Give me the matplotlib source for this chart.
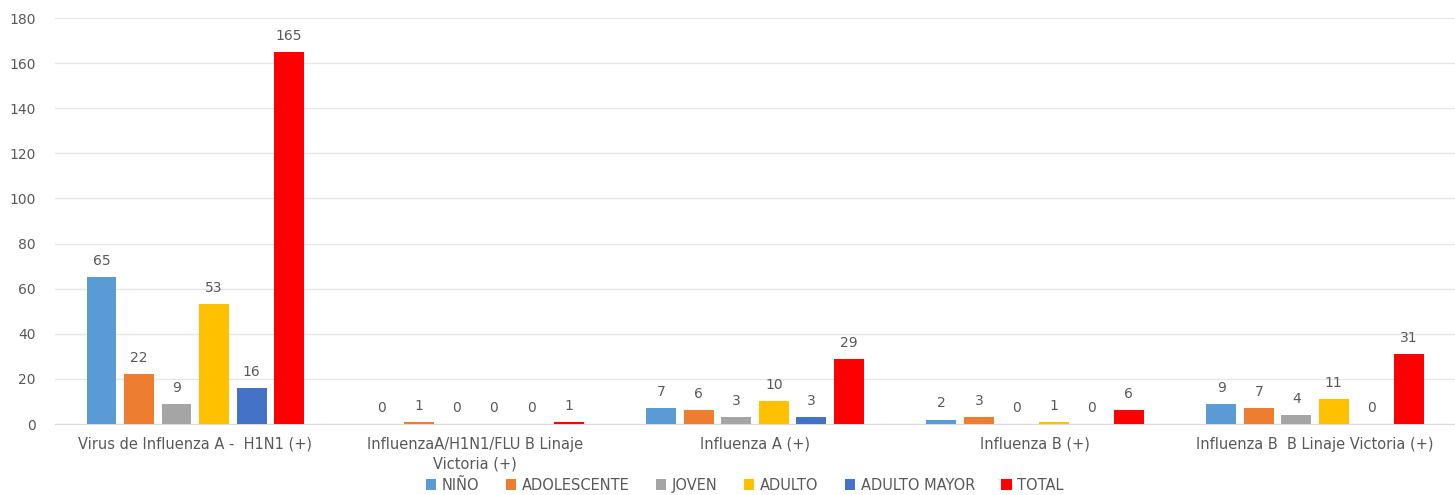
import matplotlib.pyplot as plt
import numpy as np

categories = [
    "Virus de Influenza A -  H1N1 (+)",
    "InfluenzaA/H1N1/FLU B Linaje\nVictoria (+)",
    "Influenza A (+)",
    "Influenza B (+)",
    "Influenza B  B Linaje Victoria (+)",
]
series_names = ["NIÑO", "ADOLESCENTE", "JOVEN", "ADULTO", "ADULTO MAYOR", "TOTAL"]
nino = [65, 0, 7, 2, 9]
adolescente = [22, 1, 6, 3, 7]
joven = [9, 0, 3, 0, 4]
adulto = [53, 0, 10, 1, 11]
adulto_mayor = [16, 0, 3, 0, 0]
total = [165, 1, 29, 6, 31]
colors = ["#5B9BD5", "#ED7D31", "#A5A5A5", "#FFC000", "#4472C4", "#FF0000"]

series = [nino, adolescente, joven, adulto, adulto_mayor, total]
text_color = "#595959"

fig = plt.figure(figsize=(14.55, 4.95), dpi=100)
ax = fig.add_axes([0.038, 0.1434, 0.962, 0.8202])

x = np.arange(len(categories))
pitch = 0.134
width = 0.107
for i, (name, vals, c) in enumerate(zip(series_names, series, colors)):
    pos = x + (i - 2.5) * pitch
    ax.bar(pos, vals, width, color=c, label=name, zorder=3)
    for xp, v in zip(pos, vals):
        ax.text(xp, v + 4, str(v), ha="center", va="bottom",
                fontsize=10, color=text_color)

ax.set_xlim(-0.5, len(categories) - 0.5)
ax.set_ylim(0, 180)
ax.set_yticks(np.arange(0, 181, 20))
ax.set_xticks(x)
ax.set_xticklabels(categories, fontsize=10.5, color=text_color, linespacing=1.4)
ax.tick_params(axis="y", length=0, labelsize=10, labelcolor=text_color, pad=14)
ax.tick_params(axis="x", length=0, pad=9)
ax.grid(axis="y", color="#E6E6E6", linewidth=1, zorder=0)
for s in ["top", "right", "left"]:
    ax.spines[s].set_visible(False)
ax.spines["bottom"].set_color("#D9D9D9")

fig.legend(loc="center", bbox_to_anchor=(0.512, 0.02), ncol=6, frameon=False,
           fontsize=10.5, labelcolor=text_color, handlelength=0.7,
           handleheight=0.7, handletextpad=0.4, columnspacing=1.8,
           borderpad=0.1)

fig.savefig("out.png", dpi=100)
